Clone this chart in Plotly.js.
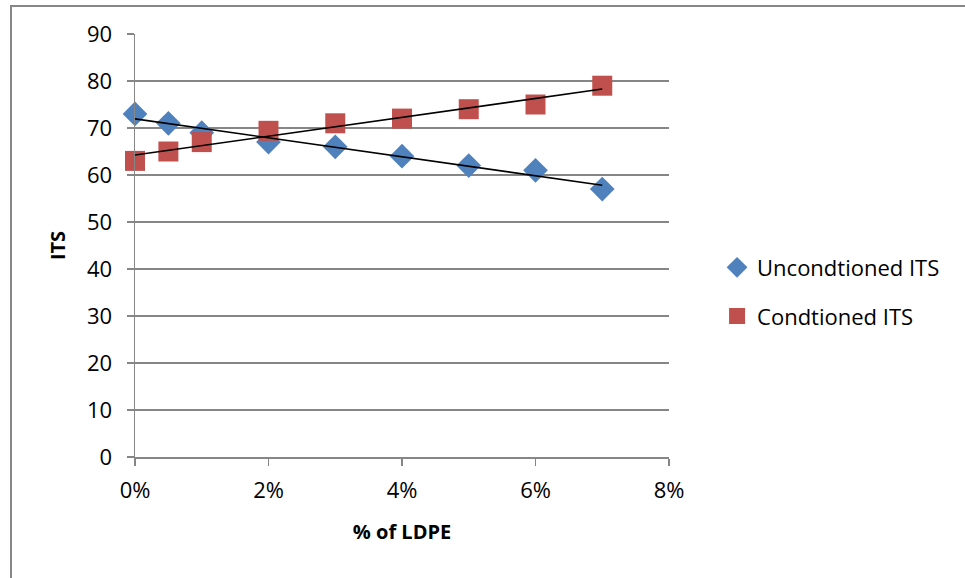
<!DOCTYPE html>
<html>
<head>
<meta charset="utf-8">
<script src="https://cdn.plot.ly/plotly-3.0.1.min.js"></script>
<style>
html,body{margin:0;padding:0;background:#fff;}
#wrap{position:relative;width:965px;height:578px;}
#chart{position:absolute;left:0;top:0;width:965px;height:578px;}
#frame{position:absolute;left:10px;top:5px;width:980px;height:600px;border-left:2px solid #878787;border-top:2px solid #878787;pointer-events:none;}
</style>
</head>
<body>
<div id="wrap"><div id="chart"></div><div id="frame"></div></div>
<script>
const ldpe = [0, 0.005, 0.01, 0.02, 0.03, 0.04, 0.05, 0.06, 0.07];
const unconditionedITS = [73, 71, 69, 67, 66, 64, 62, 61, 57];
const conditionedITS = [63, 65, 67, 69.4, 71, 72, 74, 75, 79];
const seriesNames = ['Uncondtioned ITS', 'Condtioned ITS'];

function linFit(x, y) {
  const n = x.length;
  const mx = x.reduce((a, b) => a + b, 0) / n;
  const my = y.reduce((a, b) => a + b, 0) / n;
  let sxy = 0, sxx = 0;
  for (let i = 0; i < n; i++) { sxy += (x[i] - mx) * (y[i] - my); sxx += (x[i] - mx) * (x[i] - mx); }
  const b = sxy / sxx, a = my - b * mx;
  const x0 = Math.min(...x), x1 = Math.max(...x);
  return { x: [x0, x1], y: [a + b * x0, a + b * x1] };
}
const fitU = linFit(ldpe, unconditionedITS);
const fitC = linFit(ldpe, conditionedITS);

const font = "'Open Sans', 'Noto Sans', sans-serif";
const traces = [
  { x: ldpe, y: unconditionedITS, name: seriesNames[0], legendgroup: 'u', mode: 'markers', type: 'scatter', cliponaxis: false,
    marker: { symbol: 'diamond', size: 19, color: '#4F81BD' } },
  { x: ldpe, y: conditionedITS, name: seriesNames[1], legendgroup: 'c', mode: 'markers', type: 'scatter', cliponaxis: false,
    marker: { symbol: 'square', size: 20, color: '#C0504D' } },
  { x: fitU.x, y: fitU.y, mode: 'lines', showlegend: false, cliponaxis: false, line: { color: '#000', width: 1.6 } },
  { x: fitC.x, y: fitC.y, mode: 'lines', showlegend: false, cliponaxis: false, line: { color: '#000', width: 1.6 } }
];

const layout = {
  width: 965, height: 578,
  margin: { l: 135, r: 296, t: 34, b: 121 },
  paper_bgcolor: '#fff', plot_bgcolor: '#fff',
  font: { family: font, size: 22, color: '#000' },
  showlegend: true,
  hovermode: false,
  legend: { x: 1.09, y: 0.39, xanchor: 'left', yanchor: 'middle', font: { size: 22 },
            itemsizing: 'trace', tracegroupgap: 17, bgcolor: 'rgba(0,0,0,0)' },
  xaxis: {
    range: [0, 0.08], tickvals: [0, 0.02, 0.04, 0.06, 0.08], tickformat: '.0%',
    showgrid: false, zeroline: false, showline: true, linecolor: '#868686', linewidth: 1.5,
    ticks: 'outside', ticklen: 7, tickcolor: '#868686', tickwidth: 1.5,
    tickfont: { size: 22 }, ticklabelstandoff: 6,
    title: { text: '<b>% of LDPE</b>', font: { size: 20 }, standoff: 22 }
  },
  yaxis: {
    range: [0, 90], dtick: 10,
    showgrid: true, gridcolor: '#868686', gridwidth: 1.5, zeroline: false,
    showline: true, linecolor: '#868686', linewidth: 1.5,
    ticks: 'outside', ticklen: 7, tickcolor: '#868686', tickwidth: 1.5,
    tickfont: { size: 22 }, ticklabelstandoff: 10,
    title: { text: '<b>ITS</b>', font: { size: 20 }, standoff: 16 }
  }
};
Plotly.newPlot('chart', traces, layout, { staticPlot: true, displayModeBar: false });
</script>
</body>
</html>
